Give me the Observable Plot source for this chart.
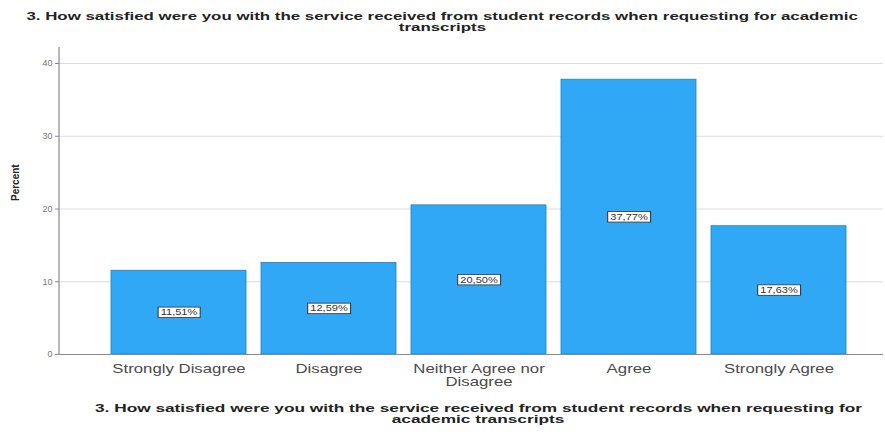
<!DOCTYPE html>
<html>
<head>
<meta charset="utf-8">
<script src="https://cdn.jsdelivr.net/npm/d3@7"></script>
<script src="https://cdn.jsdelivr.net/npm/@observablehq/plot@0.6"></script>
<style>
  html, body { margin: 0; padding: 0; background: #fff; width: 885px; height: 432px; overflow: hidden; }
  .line { position: absolute; white-space: nowrap; font-family: "Liberation Sans", Arial, sans-serif; font-weight: bold; font-size: 11px; color: #222; line-height: 11px; transform-origin: center center; }
  #chart { position: absolute; left: 0; top: 36px; }
</style>
</head>
<body>
<div class="line" id="t1" data-cx="442" data-cy="16">3. How satisfied were you with the service received from student records when requesting for academic</div>
<div class="line" id="t2" data-cx="442" data-cy="27">transcripts</div>
<div id="chart"></div>
<div class="line" id="c1" data-cx="478" data-cy="408">3. How satisfied were you with the service received from student records when requesting for</div>
<div class="line" id="c2" data-cx="478" data-cy="419">academic transcripts</div>
<script>
const categories = ["Strongly Disagree", "Disagree", "Neither Agree nor Disagree", "Agree", "Strongly Agree"];
const categoryLabels = ["Strongly Disagree", "Disagree", "Neither Agree nor\nDisagree", "Agree", "Strongly Agree"];
const percents = [11.51, 12.59, 20.50, 37.77, 17.63];
const yTicks = [0, 10, 20, 30, 40];
const yLabel = "Percent";

const data = categories.map((c, i) => ({category: c, percent: percents[i], label: percents[i].toFixed(2).replace(".", ",") + "%"}));
const labelOf = new Map(categories.map((c, i) => [c, categoryLabels[i]]));

const width = 885, height = 359, marginLeft = 59, marginRight = 2, marginTop = 11, marginBottom = 41;

const chart = Plot.plot({
  width, height, marginLeft, marginRight, marginTop, marginBottom,
  style: {fontFamily: "'Liberation Sans', Arial, sans-serif", background: "#fff", overflow: "visible"},
  x: {type: "band", domain: categories, range: [109, 848], paddingInner: 0.1, paddingOuter: 0, label: null},
  y: {domain: [0, 42.2], label: null},
  marks: [
    Plot.ruleY(yTicks.filter(d => d > 0), {stroke: "#dcdcdc", strokeWidth: 1}),
    Plot.barY(data, {x: "category", y: "percent", fill: "#30a8f6", stroke: "#1f7fc4", strokeWidth: 0.8}),
    Plot.ruleY([0], {stroke: "#8a8a8a", strokeWidth: 1.2}),
    Plot.axisY({ticks: yTicks, tickSize: 4, tickPadding: 3, fontSize: 9, color: "#777", stroke: "#8a8a8a", label: null}),
    Plot.axisX({tickSize: 0, tickPadding: 9, fontSize: 12, lineHeight: 1.1, color: "#4a4a4a", tickFormat: d => labelOf.get(d), label: null, className: "xlab"}),
    Plot.text([yLabel], {frameAnchor: "left", rotate: -90, dx: -44, fontSize: 10, fontWeight: "bold", fill: "#222"}),
    Plot.text(data, {x: "category", y: d => d.percent / 2, text: "label", fontSize: 8.5, fill: "#333", className: "vlabel"})
  ]
});
document.getElementById("chart").appendChild(chart);

const ys = chart.scale("y");
const svg = d3.select(chart);
svg.append("line")
  .attr("x1", marginLeft).attr("x2", marginLeft)
  .attr("y1", marginTop).attr("y2", ys.apply(0))
  .attr("stroke", "#8a8a8a").attr("stroke-width", 1.2);

// horizontally stretch category labels like the reference
svg.selectAll(".xlab text").each(function() {
  const t = this.getAttribute("transform") || "";
  this.setAttribute("transform", t + " scale(1.4,1)");
});

// stretch value labels and draw white boxes behind them
svg.selectAll(".vlabel text").each(function() {
  const t = (this.getAttribute("transform") || "") + " scale(1.3,1)";
  this.setAttribute("transform", t);
  const b = this.getBBox();
  const r = document.createElementNS("http://www.w3.org/2000/svg", "rect");
  r.setAttribute("x", b.x - 2); r.setAttribute("y", b.y - 0.5);
  r.setAttribute("width", b.width + 4); r.setAttribute("height", b.height + 1);
  r.setAttribute("fill", "#fff"); r.setAttribute("stroke", "#333"); r.setAttribute("stroke-width", "0.8");
  r.setAttribute("transform", t);
  this.parentNode.insertBefore(r, this);
});

document.querySelectorAll(".line").forEach(el => {
  const w = el.offsetWidth, h = el.offsetHeight;
  el.style.left = (+el.dataset.cx - w / 2) + "px";
  el.style.top = (+el.dataset.cy - h / 2) + "px";
});
const s1 = 831 / document.getElementById("t1").offsetWidth;
const s2 = 767 / document.getElementById("c1").offsetWidth;
["t1", "t2"].forEach(id => document.getElementById(id).style.transform = `scaleX(${s1})`);
["c1", "c2"].forEach(id => document.getElementById(id).style.transform = `scaleX(${s2})`);
</script>
</body>
</html>
